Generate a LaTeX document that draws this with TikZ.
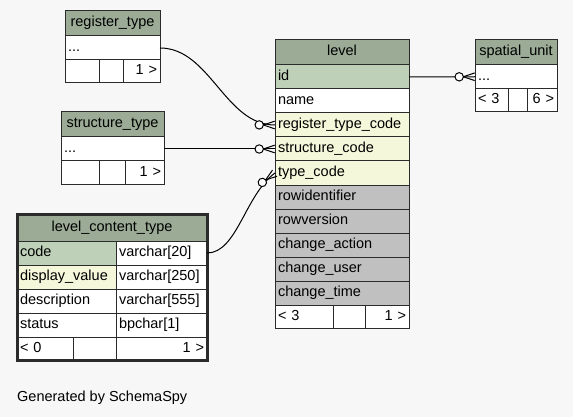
\documentclass[tikz,border=0pt]{standalone}
\usepackage{fontspec}
\setmainfont{Liberation Sans}
\usetikzlibrary{positioning,decorations.markings}

\definecolor{bg}{HTML}{F7F7F7}
\definecolor{hdrfill}{HTML}{9BAB96}
\definecolor{pkfill}{HTML}{BED1B8}
\definecolor{idxfill}{HTML}{F4F7DA}
\definecolor{auxfill}{HTML}{C0C0C0}
\definecolor{edge}{HTML}{2B2B2B}

\begin{document}
\begin{tikzpicture}[
  x=1pt, y=-1pt,
  font=\fontsize{14.5}{16}\selectfont,
  cell/.style={draw=edge, line width=1pt, fill=white, align=left, inner xsep=3pt, inner ysep=0pt, outer sep=0pt, text height=10.5pt, text depth=3.5pt},
  hdr/.style={cell, fill=hdrfill, align=center, minimum height=25pt},
  fld/.style={cell, minimum height=24pt},
  pk/.style={fld, fill=pkfill},
  idx/.style={fld, fill=idxfill},
  aux/.style={fld, fill=auxfill},
  ftr/.style={cell, minimum height=23pt},
  num/.style={ftr, align=right},
  rel/.style={draw=black, line width=1pt, postaction={decorate},
    decoration={markings, mark=at position -0.3pt with {
      \draw[line width=1pt, fill=white] (-15.5,0) circle[radius=4.2];
      \draw[line width=1pt] (-11.5,0) -- (0,3.8) (-11.5,0) -- (0,-3.8);}}},
]
\useasboundingbox (0,0) rectangle (573,417);
\fill[bg] (0,0) rectangle (573,417);

% register_type
\node[hdr, text width=89pt, anchor=north west] (rt) at (65,11) {register\_type};
\node[fld, text width=89pt, below=0pt of rt] (rt-dots) {...};
\node[ftr, text width=28pt, anchor=north west] (rt-f1) at (rt-dots.south west) {};
\node[ftr, text width=18pt, right=0pt of rt-f1] (rt-f2) {};
\node[num, text width=31pt, right=0pt of rt-f2] (rt-f3) {1 >};

% structure_type
\node[hdr, text width=97pt, anchor=north west] (st) at (61,112) {structure\_type};
\node[fld, text width=97pt, below=0pt of st] (st-dots) {...};
\node[ftr, text width=32pt, anchor=north west] (st-f1) at (st-dots.south west) {};
\node[ftr, text width=20pt, right=0pt of st-f1] (st-f2) {};
\node[num, text width=33pt, right=0pt of st-f2] (st-f3) {1 >};

% level
\node[hdr, text width=128pt, anchor=north west] (lvl) at (275,40) {level};
\node[pk, text width=128pt, below=0pt of lvl] (lvl-id) {id};
\node[fld, text width=128pt, below=0pt of lvl-id] (lvl-name) {name};
\node[idx, text width=128pt, below=0pt of lvl-name] (lvl-rtc) {register\_type\_code};
\node[idx, text width=128pt, below=0pt of lvl-rtc] (lvl-sc) {structure\_code};
\node[idx, text width=128pt, below=0pt of lvl-sc] (lvl-tc) {type\_code};
\node[aux, text width=128pt, below=0pt of lvl-tc] (lvl-rid) {rowidentifier};
\node[aux, text width=128pt, below=0pt of lvl-rid] (lvl-rver) {rowversion};
\node[aux, text width=128pt, below=0pt of lvl-rver] (lvl-cact) {change\_action};
\node[aux, text width=128pt, below=0pt of lvl-cact] (lvl-cusr) {change\_user};
\node[aux, text width=128pt, below=0pt of lvl-cusr] (lvl-ctim) {change\_time};
\node[ftr, text width=52pt, anchor=north west] (lvl-f1) at (lvl-ctim.south west) {< 3};
\node[ftr, text width=26pt, right=0pt of lvl-f1] (lvl-f2) {};
\node[num, text width=38pt, right=0pt of lvl-f2] (lvl-f3) {1 >};

% spatial_unit
\node[hdr, text width=76pt, anchor=north west] (su) at (475,40) {spatial\_unit};
\node[fld, text width=76pt, minimum height=23.5pt, below=0pt of su] (su-dots) {...};
\node[ftr, text width=27pt, anchor=north west] (su-f1) at (su-dots.south west) {< 3};
\node[ftr, text width=13pt, right=0pt of su-f1] (su-f2) {};
\node[num, text width=24pt, right=0pt of su-f2] (su-f3) {6 >};

% level_content_type
\node[hdr, text width=184pt, minimum height=27pt, anchor=north west] (lct) at (17,214) {level\_content\_type};
\node[pk, text width=93pt, anchor=north west] (lct-code) at (lct.south west) {code};
\node[fld, text width=85pt, right=0pt of lct-code] (lct-code-t) {varchar[20]};
\node[idx, text width=93pt, below=0pt of lct-code] (lct-disp) {display\_value};
\node[fld, text width=85pt, right=0pt of lct-disp] (lct-disp-t) {varchar[250]};
\node[fld, text width=93pt, below=0pt of lct-disp] (lct-desc) {description};
\node[fld, text width=85pt, right=0pt of lct-desc] (lct-desc-t) {varchar[555]};
\node[fld, text width=93pt, below=0pt of lct-desc] (lct-stat) {status};
\node[fld, text width=85pt, right=0pt of lct-stat] (lct-stat-t) {bpchar[1]};
\node[ftr, text width=50pt, anchor=north west] (lct-f1) at (lct-stat.south west) {< 0};
\node[ftr, text width=37pt, right=0pt of lct-f1] (lct-f2) {};
\node[num, text width=85pt, right=0pt of lct-f2] (lct-f3) {1 >};
\draw[edge, line width=3pt] (lct.north west) rectangle (lct-f3.south east);

% relationships
\draw[rel] (rt-dots.east) .. controls +(50,0) and +(-50,0) .. (lvl-rtc.west);
\draw[rel] (st-dots.east) -- (lvl-sc.west);
\draw[rel] (lct-code-t.east) .. controls +(30,0) and +(-30,22) .. (lvl-tc.west);
\draw[rel] (lvl-id.east) -- (su-dots.west);

\node[anchor=base west, inner sep=0pt] (credit) at (17,401) {Generated by SchemaSpy};
\end{tikzpicture}
\end{document}
